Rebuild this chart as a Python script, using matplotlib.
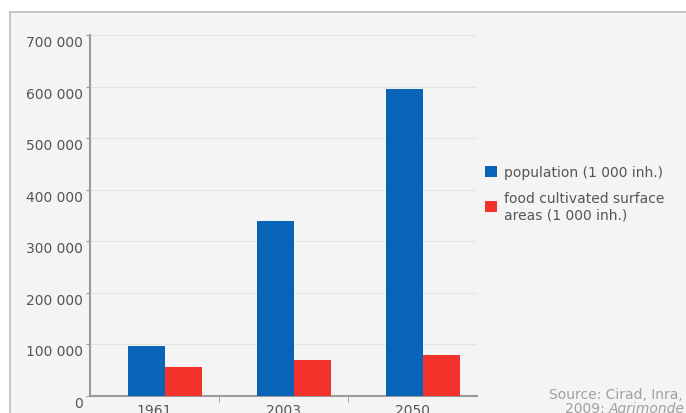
import numpy as np
import matplotlib
matplotlib.use("Agg")
import matplotlib.pyplot as plt
from matplotlib.patches import Rectangle
from matplotlib.lines import Line2D
from matplotlib.ticker import FuncFormatter

years = ["1961", "2003", "2050"]
population = [97000, 339000, 596000]
food_areas = [56000, 69000, 79000]
series_labels = ["population (1 000 inh.)", "food cultivated surface\nareas (1 000 inh.)"]
y_ticks = [0, 100000, 200000, 300000, 400000, 500000, 600000, 700000]

blue = "#0764b6"
red = "#f2322b"
text_grey = "#555555"
W, H = 686, 414

fig = plt.figure(figsize=(W / 100, H / 100), dpi=100)
fig.patch.set_facecolor("white")

# grey panel with border, cut off at the right and bottom
fig.add_artist(Rectangle((10 / W, 0), 1, 1 - 13 / H, transform=fig.transFigure,
                         facecolor="#f4f4f4", edgecolor="none", zorder=-5))
fig.add_artist(Line2D([10 / W, 1], [1 - 13 / H] * 2, transform=fig.transFigure,
                      color="#bdbdbd", lw=1.2))
fig.add_artist(Line2D([10 / W] * 2, [0, 1 - 13 / H], transform=fig.transFigure,
                      color="#bdbdbd", lw=1.2))

ax = fig.add_axes([90 / W, 17.3 / H, 387 / W, (396.7 - 36) / H])
ax.set_facecolor("none")

x = np.arange(len(years))
w = 0.284
ax.bar(x - 0.06, population, width=w, color=blue, label=series_labels[0], zorder=3)
ax.bar(x - 0.06 + w, food_areas, width=w, color=red, label=series_labels[1], zorder=3)

ax.set_xlim(-0.5, 2.5)
ax.set_ylim(0, 700000)
ax.set_yticks(y_ticks)
ax.yaxis.set_major_formatter(FuncFormatter(lambda v, p: f"{int(v):,}".replace(",", " ")))
ax.set_xticks(x)
ax.set_xticklabels(years)
ax.set_xticks([0.5, 1.5], minor=True)
ax.tick_params(axis="x", which="major", length=0, pad=5, labelsize=10, labelcolor=text_grey)
ax.tick_params(axis="x", which="minor", length=4, color="#999999", direction="out")
ax.tick_params(axis="y", length=3, color="#999999", pad=2, labelsize=10, labelcolor=text_grey)
for lbl in ax.get_yticklabels():
    lbl.set_va("top")

ax.grid(axis="y", color="#e4e4e4", lw=0.8, zorder=0)
for s in ["top", "right"]:
    ax.spines[s].set_visible(False)
for s in ["left", "bottom"]:
    ax.spines[s].set_color("#9a9a9a")
    ax.spines[s].set_linewidth(1.5)

fig.legend(loc="upper left", bbox_to_anchor=(485 / W, 1 - 166 / H), frameon=False,
           fontsize=10, labelcolor=text_grey, handlelength=0.85, handleheight=0.85,
           handletextpad=0.55, labelspacing=0.85, borderaxespad=0, borderpad=0)

src_color = "#a0a0a0"
fig.text(683 / W, 1 - 395 / H, "Source: Cirad, Inra,", ha="right", va="center",
         fontsize=10, color=src_color)
agri = fig.text(685 / W, 1 - 409 / H, "Agrimonde", ha="right", va="center", fontsize=10,
                color=src_color, style="italic")
fig.canvas.draw()
bb = agri.get_window_extent().transformed(fig.transFigure.inverted())
fig.text(bb.x0, 1 - 409 / H, "2009: ", ha="right", va="center", fontsize=10,
         color=src_color)

fig.savefig("out.png", dpi=100)
